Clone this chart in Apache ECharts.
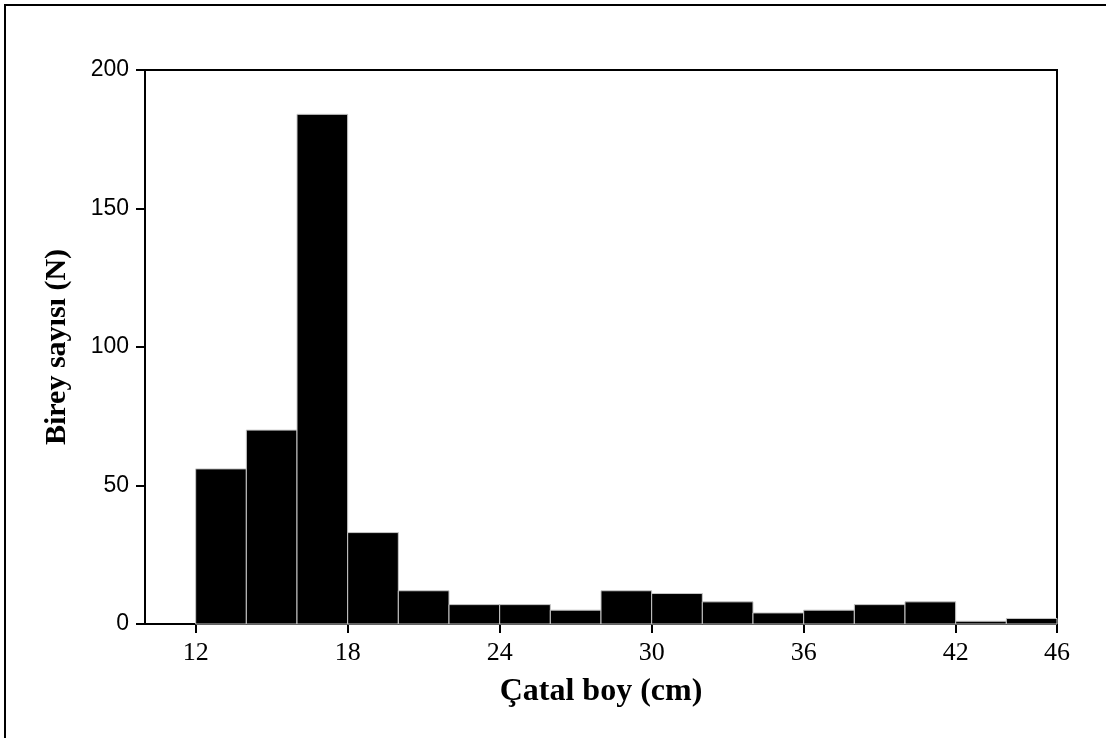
<!DOCTYPE html>
<html>
<head>
<meta charset="utf-8">
<style>
html,body{margin:0;padding:0;background:#fff;}
#chart{width:1106px;height:738px;}
</style>
<script src="https://cdn.jsdelivr.net/npm/echarts@6/dist/echarts.min.js"></script>
</head>
<body>
<div id="chart"></div>
<script>
// Histogram bins (Çatal boy, cm) and counts
const binStarts = [12, 14, 16, 18, 20, 22, 24, 26, 28, 30, 32, 34, 36, 38, 40, 42, 44];
const binWidth = 2;
const counts = [56, 70, 184, 33, 12, 7, 7, 5, 12, 11, 8, 4, 5, 7, 8, 1, 2];
const xTicks = [12, 18, 24, 30, 36, 42, 46];
const yTicks = [0, 50, 100, 150, 200];
const xTitle = 'Çatal boy (cm)';
const yTitle = 'Birey sayısı (N)';

const data = binStarts.map((s, i) => [s, s + binWidth, counts[i]]);

const chart = echarts.init(document.getElementById('chart'));
chart.setOption({
  animation: false,
  backgroundColor: '#fff',
  graphic: [{
    type: 'rect', silent: true,
    shape: {x: 5, y: 5, width: 1120, height: 760},
    style: {fill: 'none', stroke: '#000', lineWidth: 2}
  }],
  grid: {left: 145, right: 49, top: 70, bottom: 114, show: true, borderColor: '#000', borderWidth: 2, backgroundColor: 'transparent'},
  xAxis: {
    type: 'value', min: 10, max: 46,
    name: xTitle, nameLocation: 'middle', nameGap: 52,
    nameTextStyle: {fontFamily: '"Liberation Serif", serif', fontWeight: 'bold', fontSize: 32, color: '#000'},
    axisLine: {show: true, lineStyle: {color: '#000', width: 2}},
    axisTick: {show: true, length: 9, lineStyle: {color: '#000', width: 2}, customValues: xTicks},
    axisLabel: {customValues: xTicks, margin: 16, fontFamily: '"Liberation Serif", serif', fontSize: 26, color: '#000'},
    splitLine: {show: false}
  },
  yAxis: {
    type: 'value', min: yTicks[0], max: yTicks[yTicks.length - 1], interval: 50,
    name: yTitle, nameLocation: 'middle', nameGap: 73, nameRotate: 90,
    nameTextStyle: {fontFamily: '"Liberation Serif", serif', fontWeight: 'bold', fontSize: 30, color: '#000'},
    axisLine: {show: true, lineStyle: {color: '#000', width: 2}},
    axisTick: {show: true, length: 9, lineStyle: {color: '#000', width: 2}},
    axisLabel: {margin: 16, fontFamily: '"Liberation Sans", sans-serif', fontSize: 23, color: '#000'},
    splitLine: {show: false}
  },
  series: [{
    type: 'custom',
    data: data,
    encode: {x: [0, 1], y: 2},
    renderItem: function (params, api) {
      const p0 = api.coord([api.value(0), 0]);
      const p1 = api.coord([api.value(1), api.value(2)]);
      return {
        type: 'rect',
        shape: {x: p0[0], y: p1[1], width: p1[0] - p0[0], height: p0[1] - p1[1]},
        style: {fill: '#000', stroke: '#c8c8c8', lineWidth: 1}
      };
    }
  }]
});
</script>
</body>
</html>
